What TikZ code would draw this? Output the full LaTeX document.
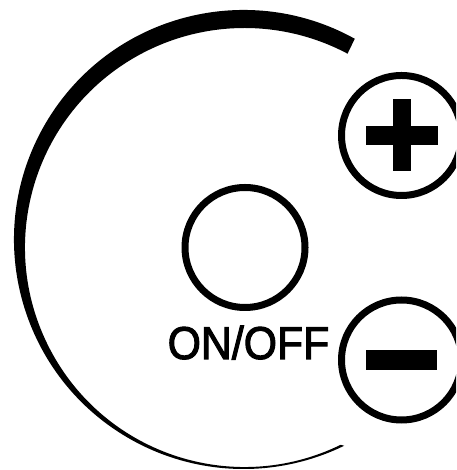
\documentclass[tikz,border=0pt]{standalone}
\usepackage{fontspec}
\setmainfont{Liberation Sans}
\usetikzlibrary{calc}
\begin{document}
\begin{tikzpicture}[x=1pt,y=1pt,
  ring/.style={circle,draw=black,line width=7pt,minimum size=120pt,inner sep=0pt},
  bar/.style={fill=black,draw=none}]
\useasboundingbox (0,0) rectangle (456,470);
\clip (0,0) rectangle (456,470);
% outer crescent arc
\fill[black] ($(243.5,230.5)+(61:229.5)$) arc[start angle=61,end angle=296,radius=229.5]
  -- ($(244.5,222.5)+(296:219.5)$) arc[start angle=296,end angle=62,radius=219.5] -- cycle;
% buttons
\node[ring] (onoff) at (245,222.5) {};
\node[ring] (plus) at (401.5,334.5) {};
\node[ring] (minus) at (401.5,110) {};
% plus sign
\fill[bar] ($(plus.center)+(-36,-9.5)$) rectangle ($(plus.center)+(36,9.5)$);
\fill[bar] ($(plus.center)+(-9,-36)$) rectangle ($(plus.center)+(9,36)$);
% minus sign
\fill[bar] ($(minus.center)+(-35.5,-9.75)$) rectangle ($(minus.center)+(35.5,9.75)$);
% label
\node[anchor=base west,inner sep=0pt,font=\fontsize{46}{46}\selectfont] (lbl) at (167.5,111) {\special{pdf:literal direct 2 Tr 1.1 w}\scalebox{0.93}[1]{ON/OFF}\special{pdf:literal direct 0 Tr}};
\end{tikzpicture}
\end{document}
